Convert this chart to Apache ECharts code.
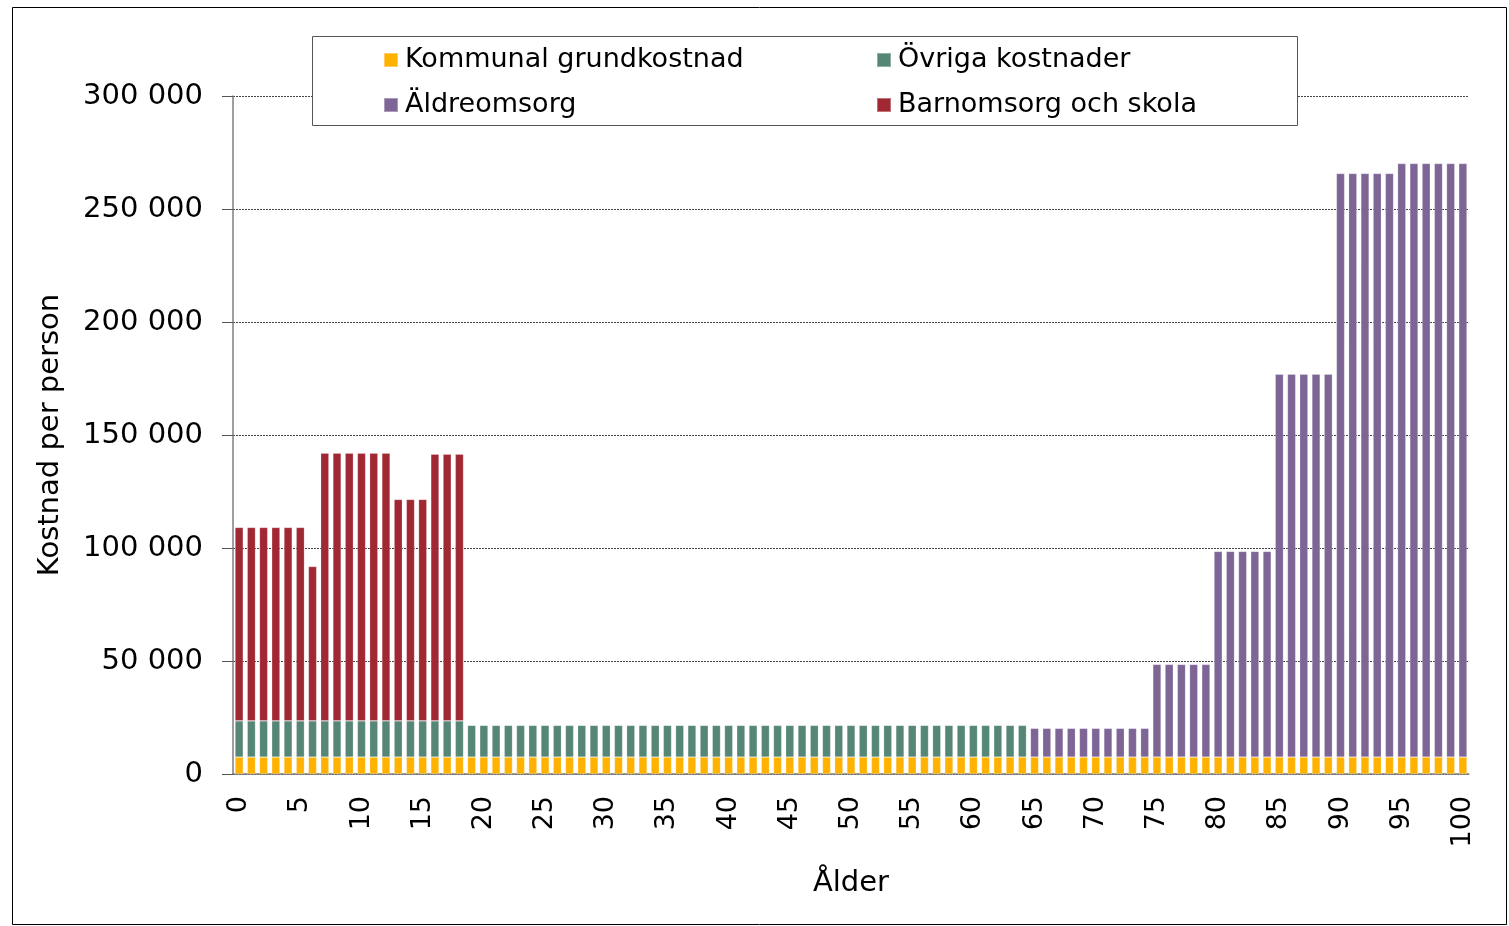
<!DOCTYPE html>
<html>
<head>
<meta charset="utf-8">
<script src="https://cdn.jsdelivr.net/npm/echarts@6/dist/echarts.min.js"></script>
<style>html,body{margin:0;padding:0;background:#fff}#c{width:1509px;height:926px}</style>
</head>
<body>
<div id="c"></div>
<script>
const ages = [
 '0','1','2','3','4','5','6','7','8','9',
 '10','11','12','13','14','15','16','17','18','19',
 '20','21','22','23','24','25','26','27','28','29',
 '30','31','32','33','34','35','36','37','38','39',
 '40','41','42','43','44','45','46','47','48','49',
 '50','51','52','53','54','55','56','57','58','59',
 '60','61','62','63','64','65','66','67','68','69',
 '70','71','72','73','74','75','76','77','78','79',
 '80','81','82','83','84','85','86','87','88','89',
 '90','91','92','93','94','95','96','97','98','99',
 '100'];
const kommunal = [
 7500,7500,7500,7500,7500,7500,7500,7500,7500,7500,
 7500,7500,7500,7500,7500,7500,7500,7500,7500,7500,
 7500,7500,7500,7500,7500,7500,7500,7500,7500,7500,
 7500,7500,7500,7500,7500,7500,7500,7500,7500,7500,
 7500,7500,7500,7500,7500,7500,7500,7500,7500,7500,
 7500,7500,7500,7500,7500,7500,7500,7500,7500,7500,
 7500,7500,7500,7500,7500,7500,7500,7500,7500,7500,
 7500,7500,7500,7500,7500,7500,7500,7500,7500,7500,
 7500,7500,7500,7500,7500,7500,7500,7500,7500,7500,
 7500,7500,7500,7500,7500,7500,7500,7500,7500,7500,
 7500];
const ovriga = [
 16000,16000,16000,16000,16000,16000,16000,16000,16000,16000,
 16000,16000,16000,16000,16000,16000,16000,16000,16000,14000,
 14000,14000,14000,14000,14000,14000,14000,14000,14000,14000,
 14000,14000,14000,14000,14000,14000,14000,14000,14000,14000,
 14000,14000,14000,14000,14000,14000,14000,14000,14000,14000,
 14000,14000,14000,14000,14000,14000,14000,14000,14000,14000,
 14000,14000,14000,14000,14000,null,null,null,null,null,
 null,null,null,null,null,null,null,null,null,null,
 null,null,null,null,null,null,null,null,null,null,
 null,null,null,null,null,null,null,null,null,null,
 null];
const aldreomsorg = [
 null,null,null,null,null,null,null,null,null,null,
 null,null,null,null,null,null,null,null,null,null,
 null,null,null,null,null,null,null,null,null,null,
 null,null,null,null,null,null,null,null,null,null,
 null,null,null,null,null,null,null,null,null,null,
 null,null,null,null,null,null,null,null,null,null,
 null,null,null,null,null,12700,12700,12700,12700,12700,
 12700,12700,12700,12700,12700,41000,41000,41000,41000,41000,
 91000,91000,91000,91000,91000,169400,169400,169400,169400,169400,
 258200,258200,258200,258200,258200,262600,262600,262600,262600,262600,
 262600];
const barnomsorg = [
 85600,85600,85600,85600,85600,85600,68300,118500,118500,118500,
 118500,118500,118500,98000,98000,98000,118000,118000,118000,null,
 null,null,null,null,null,null,null,null,null,null,
 null,null,null,null,null,null,null,null,null,null,
 null,null,null,null,null,null,null,null,null,null,
 null,null,null,null,null,null,null,null,null,null,
 null,null,null,null,null,null,null,null,null,null,
 null,null,null,null,null,null,null,null,null,null,
 null,null,null,null,null,null,null,null,null,null,
 null,null,null,null,null,null,null,null,null,null,
 null];
const yTicks = [0, 50000, 100000, 150000, 200000, 250000, 300000];

const FONT = 'Verdana, "DejaVu Sans", sans-serif';
const chart = echarts.init(document.getElementById('c'), null, {renderer: 'canvas'});
function bar(name, data, color) {
  return {
    name, type: 'bar', stack: 'total', data,
    barCategoryGap: '33%',
    itemStyle: {color, borderColor: 'rgba(255,255,255,0.35)', borderWidth: 0.6},
    emphasis: {disabled: true}
  };
}
const legendText = {fontFamily: FONT, fontSize: 27, color: '#000', lineHeight: 30, padding: [0, 0, 0, 2]};
chart.setOption({
  animation: false,
  backgroundColor: '#fff',
  grid: {left: 233, right: 40, top: 96, bottom: 152, containLabel: false},
  graphic: {elements: [
    {type: 'rect', z: 0, shape: {x: 12.5, y: 7.5, width: 1494, height: 917},
     style: {fill: 'none', stroke: '#000', lineWidth: 1}},
    {type: 'rect', z: 3, shape: {x: 312.5, y: 36.5, width: 985, height: 89},
     style: {fill: '#fff', stroke: '#555', lineWidth: 1}}
  ]},
  legend: [
    {orient: 'vertical', left: 383, top: 45, padding: 0, itemWidth: 14, itemHeight: 14, itemGap: 15,
     icon: 'rect', textStyle: legendText, data: ['Kommunal grundkostnad', 'Äldreomsorg'], selectedMode: false, z: 5},
    {orient: 'vertical', left: 876, top: 45, padding: 0, itemWidth: 14, itemHeight: 14, itemGap: 15,
     icon: 'rect', textStyle: legendText, data: ['Övriga kostnader', 'Barnomsorg och skola'], selectedMode: false, z: 5}
  ],
  xAxis: {
    type: 'category', data: ages,
    name: 'Ålder', nameLocation: 'middle', nameGap: 95,
    nameTextStyle: {fontFamily: FONT, fontSize: 29, color: '#000'},
    axisLine: {lineStyle: {color: '#7f7f7f', width: 1.5}},
    axisTick: {show: false},
    axisLabel: {interval: 4, rotate: 90, margin: 22, fontFamily: FONT, fontSize: 27, color: '#000'}
  },
  yAxis: {
    type: 'value', min: 0, max: 300000, interval: 50000,
    name: 'Kostnad per person', nameLocation: 'middle', nameGap: 168,
    nameTextStyle: {fontFamily: FONT, fontSize: 29, color: '#000'},
    axisLine: {show: true, lineStyle: {color: '#7f7f7f', width: 1.5}},
    axisTick: {show: true, length: 11, lineStyle: {color: '#555'}},
    axisLabel: {margin: 30, fontFamily: FONT, fontSize: 29, color: '#000',
      formatter: v => yTicks.includes(v) ? (v === 0 ? '0' : (v / 1000) + ' 000') : ''},
    splitLine: {lineStyle: {color: '#444', type: [2, 1], width: 1}}
  },
  series: [
    bar('Kommunal grundkostnad', kommunal, '#FFB300'),
    bar('Övriga kostnader', ovriga, '#558676'),
    bar('Barnomsorg och skola', barnomsorg, '#A02833'),
    bar('Äldreomsorg', aldreomsorg, '#7D6596')
  ]
});
</script>
</body>
</html>
